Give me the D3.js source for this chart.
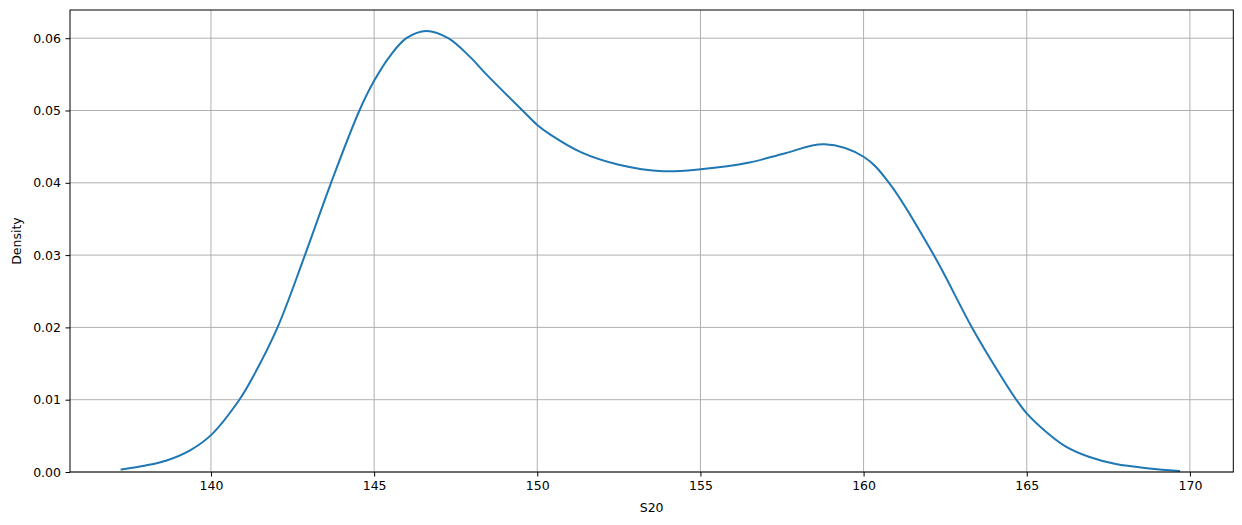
<!DOCTYPE html>
<html>
<head>
<meta charset="utf-8">
<script src="https://cdn.jsdelivr.net/npm/d3@7"></script>
<style>
  html, body { margin: 0; padding: 0; background: #fff; }
  svg { display: block; }
  text { font-family: "DejaVu Sans", sans-serif; fill: #000; }
</style>
</head>
<body>
<svg id="chart" width="1242" height="525"></svg>
<script>
// Density curve (x = S20, y = density)
const s20 = [137.26, 138.0, 138.64, 139.36, 140.0, 140.87, 141.28, 142.04, 142.88, 143.68, 144.55, 145.0, 145.48, 145.99, 146.6, 147.27, 147.93, 148.44, 149.57, 150.0, 150.39, 151.35, 152.5, 153.86, 155.0, 156.5, 157.6, 158.8, 160.0, 160.78, 162.15, 163.32, 164.16, 164.68, 165.0, 165.58, 166.2, 166.9, 167.73, 168.75, 169.67];
const density = [0.00035, 0.0009, 0.0016, 0.0030, 0.0051, 0.0100, 0.0131, 0.0200, 0.0300, 0.0400, 0.0500, 0.0541, 0.0575, 0.0600, 0.0610, 0.0600, 0.05745, 0.0550, 0.0499, 0.0480, 0.0467, 0.0442, 0.0425, 0.0416, 0.04187, 0.0428, 0.0441, 0.04533, 0.0436, 0.0400, 0.0300, 0.0200, 0.01363, 0.0100, 0.0081, 0.0056, 0.0035, 0.0021, 0.0011, 0.0005, 0.00015];
const xTicks = [140, 145, 150, 155, 160, 165, 170];
const yTicks = [0.00, 0.01, 0.02, 0.03, 0.04, 0.05, 0.06];
const xLabel = "S20";
const yLabel = "Density";

const svg = d3.select("#chart");
const mLeft = 70, mRight = 1233.3, mTop = 10, mBottom = 472;
const x = d3.scaleLinear().domain([135.68, 171.33]).range([mLeft, mRight]);
const y = d3.scaleLinear().domain([0, 0.0639]).range([mBottom, mTop]);

const fontSize = "12.5px";
const gridColor = "#b0b0b0";

// grid
const grid = svg.append("g");
grid.selectAll(".vx").data(xTicks).enter().append("line")
  .attr("x1", d => x(d)).attr("x2", d => x(d))
  .attr("y1", mTop).attr("y2", mBottom)
  .attr("stroke", gridColor).attr("stroke-width", 1);
grid.selectAll(".hy").data(yTicks).enter().append("line")
  .attr("x1", mLeft).attr("x2", mRight)
  .attr("y1", d => y(d)).attr("y2", d => y(d))
  .attr("stroke", gridColor).attr("stroke-width", 1);

// curve
const pts = s20.map((v, i) => [v, density[i]]);
const line = d3.line().x(d => x(d[0])).y(d => y(d[1])).curve(d3.curveCatmullRom.alpha(0.5));
svg.append("path").datum(pts)
  .attr("d", line)
  .attr("fill", "none")
  .attr("stroke", "#1f77b4")
  .attr("stroke-width", 2)
  .attr("stroke-linejoin", "round")
  .attr("stroke-linecap", "square");

// axes
const xAxis = d3.axisBottom(x).tickValues(xTicks).tickFormat(d3.format("d")).tickSize(4.5).tickPadding(4.5);
const yAxis = d3.axisLeft(y).tickValues(yTicks).tickFormat(d3.format(".2f")).tickSize(4.5).tickPadding(4.5);

const gx = svg.append("g").attr("transform", `translate(0,${mBottom})`).call(xAxis);
const gy = svg.append("g").attr("transform", `translate(${mLeft},0)`).call(yAxis);
[gx, gy].forEach(g => {
  g.select(".domain").remove();
  g.selectAll(".tick line").attr("stroke", "#000").attr("stroke-width", 1);
  g.selectAll(".tick text").style("font-family", "DejaVu Sans").style("font-size", fontSize).attr("fill", "#000");
});

// frame
svg.append("rect")
  .attr("x", mLeft).attr("y", mTop)
  .attr("width", mRight - mLeft).attr("height", mBottom - mTop)
  .attr("fill", "none").attr("stroke", "#000").attr("stroke-width", 1);

// labels
svg.append("text")
  .attr("x", (mLeft + mRight) / 2).attr("y", 512)
  .attr("text-anchor", "middle")
  .style("font-size", fontSize)
  .text(xLabel);
svg.append("text")
  .attr("transform", `translate(21,${(mTop + mBottom) / 2}) rotate(-90)`)
  .attr("text-anchor", "middle")
  .style("font-size", fontSize)
  .text(yLabel);
</script>
</body>
</html>
